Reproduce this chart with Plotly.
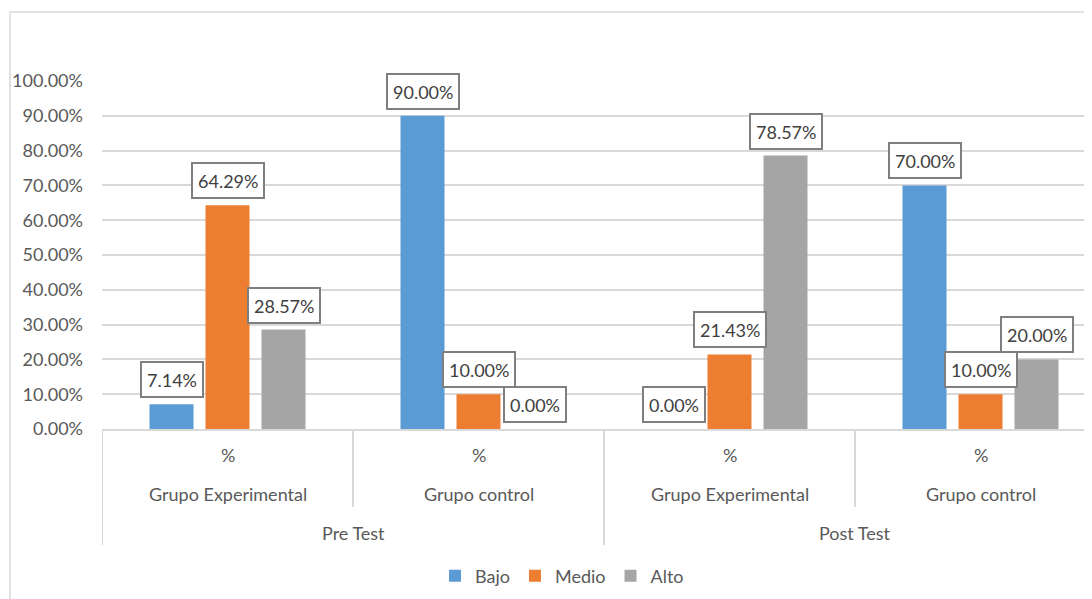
import plotly.graph_objects as go

# ---- data ----
phases = ["Pre Test", "Post Test"]
groups = ["Grupo Experimental", "Grupo control", "Grupo Experimental", "Grupo control"]
sub_label = ["%", "%", "%", "%"]
series = ["Bajo", "Medio", "Alto"]
bajo = [0.0714, 0.90, 0.0, 0.70]
medio = [0.6429, 0.10, 0.2143, 0.10]
alto = [0.2857, 0.0, 0.7857, 0.20]
values = [bajo, medio, alto]
colors = ["#5B9BD5", "#ED7D31", "#A5A5A5"]

FONT = "Lato"
FS = 18
TXT = "#595959"
GRID = "#D9D9D9"

# layout geometry (screen px; page body adds an 8px offset)
OFF = 8
W, H = 1092 - OFF, 599 - OFF
L = 102 - OFF
T = 81 - OFF
BOT = 429 - OFF           # plot bottom in figure px
B = H - BOT
CAT_PX = 251.0
plot_w = W - L
plot_h = H - T - B
SLOT = 56 / CAT_PX
BAR_W = 44 / CAT_PX
n = len(groups)
xs = list(range(n))
x_max = -0.5 + plot_w / CAT_PX


def py(sy):  # screen y -> paper y
    return (BOT - (sy - OFF)) / plot_h


def pxx(sx):  # screen x -> paper x
    return (sx - OFF - L) / plot_w


fig = go.Figure()
for k, (name, vals, col) in enumerate(zip(series, values, colors)):
    fig.add_trace(go.Bar(
        x=xs, y=vals, name=name, marker=dict(color=col, line=dict(width=0)),
        width=BAR_W, offset=(k - 1) * SLOT - BAR_W / 2, hoverinfo="skip",
    ))

annotations = []
for k, vals in enumerate(values):
    for i, v in enumerate(vals):
        annotations.append(dict(
            x=i + (k - 1) * SLOT, y=v, xref="x", yref="y",
            text=f"{v*100:.2f}%", showarrow=False, yanchor="bottom", yshift=6,
            font=dict(family=FONT, size=FS, color="#404040"),
            bgcolor="white", bordercolor="#7F7F7F", borderwidth=2, borderpad=5,
            height=23,
        ))

# multi-level category labels
for i in range(n):
    annotations.append(dict(x=i, y=py(455), xref="x", yref="paper", text=sub_label[i],
                            showarrow=False, yanchor="middle",
                            font=dict(family=FONT, size=FS, color=TXT)))
    annotations.append(dict(x=i, y=py(494), xref="x", yref="paper", text=groups[i],
                            showarrow=False, yanchor="middle",
                            font=dict(family=FONT, size=FS, color=TXT)))
for j, ph in enumerate(phases):
    annotations.append(dict(x=2 * j + 0.5, y=py(533), xref="x", yref="paper", text=ph,
                            showarrow=False, yanchor="middle",
                            font=dict(family=FONT, size=FS, color=TXT)))

shapes = []
# separators
for b in [i - 0.5 for i in range(n + 1)]:
    outer = (round(b + 0.5) % 2 == 0)
    shapes.append(dict(type="line", xref="x", yref="paper", x0=b, x1=b,
                       y0=py(429), y1=py(545 if outer else 507),
                       line=dict(color=GRID, width=2)))
# chart border
shapes.append(dict(type="rect", xref="paper", yref="paper",
                   x0=pxx(10), x1=pxx(1200), y0=py(12), y1=py(700),
                   line=dict(color=GRID, width=1.5), fillcolor="rgba(0,0,0,0)", layer="below"))

fig.update_layout(
    width=W, height=H, margin=dict(l=L, r=0, t=T, b=B),
    plot_bgcolor="white", paper_bgcolor="white",
    barmode="overlay", showlegend=True,
    legend=dict(orientation="h", x=pxx(562), xanchor="center", y=py(576), yanchor="middle",
                font=dict(family=FONT, size=FS, color=TXT), itemwidth=30, tracegroupgap=0),
    annotations=annotations, shapes=shapes,
    font=dict(family=FONT, size=FS, color=TXT),
)
fig.update_xaxes(range=[-0.5, x_max], showticklabels=False, showgrid=False, zeroline=False,
                 showline=True, linecolor=GRID, linewidth=2, ticks="")
fig.update_yaxes(range=[0, 1.0], tickvals=[i / 10 for i in range(11)], tickformat=".2%",
                 showgrid=True, gridcolor=GRID, gridwidth=1.5, zeroline=False, showline=False,
                 ticklabelstandoff=18, tickfont=dict(family=FONT, size=FS, color=TXT))

fig.write_html("out.html")
